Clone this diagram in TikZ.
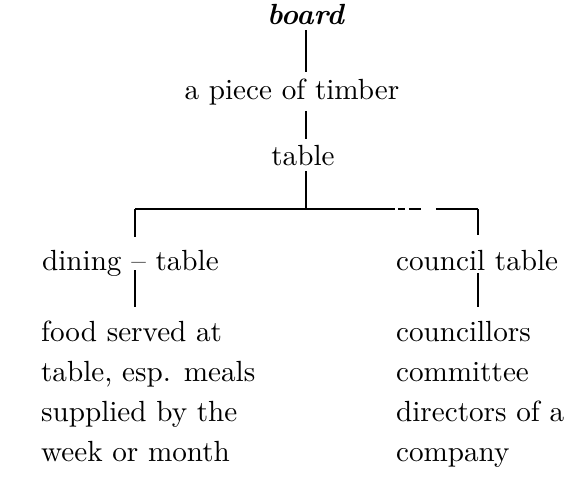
\documentclass[tikz,border=0pt]{standalone}
\usepackage{xcolor}
\usepackage{tikz}
\usetikzlibrary{calc}
\tikzset{
  word/.style={inner sep=2pt, font=\fontsize{10.5}{14.4}\selectfont},
  sense/.style={word, anchor=north west, align=left},
  branch/.style={line width=0.45pt},
}

\begin{document}
\begin{tikzpicture}[x=0.36pt, y=-0.36pt]
    \useasboundingbox (0,0) rectangle (574,499);
    % headword and its chain
    \node[word, anchor=base] (board) at (306,24) {\textbf{\textit{board}}};
    \node[word, anchor=base] (timber) at (292,99) {a piece of timber};
    \node[word, anchor=base] (table) at (303,165) {table};
    \draw[branch] (board.south) -- (board.south |- timber.north);
    \draw[branch] (board.south |- timber.south) -- (board.south |- table.north);
    \coordinate (bar) at (306,209);
    \draw[branch] (board.south |- table.south) -- (bar);
    % the two branches
    \coordinate (bl) at (135,209);
    \coordinate (br) at (478,209);
    \draw[branch, dash pattern=on 93.6pt off 1.1pt on 2.5pt off 1.4pt on 4.3pt off 5.4pt on 15.5pt] (bl) -- (br);
    \node[word, anchor=base west] (dining) at (36,270) {dining -- table};
    \node[word, anchor=base west] (council) at (390,270) {council table};
    \draw[branch, shorten >=2.5pt] (bl) -- (bl |- dining.north);
    \draw[branch, shorten >=3pt] (br) -- (br |- council.north);
    % senses
    \node[sense] (food) at (35,315) {food served at\\table, esp. meals\\supplied by the\\week or month};
    \node[sense] (councillors) at (390,315) {councillors\\committee\\directors of a\\company};
    \draw[branch, shorten >=3pt] (bl |- dining.base) -- (bl |- food.north);
    \draw[branch, shorten <=1pt, shorten >=3pt] (br |- council.base) -- (br |- councillors.north);
\end{tikzpicture}
\end{document}
